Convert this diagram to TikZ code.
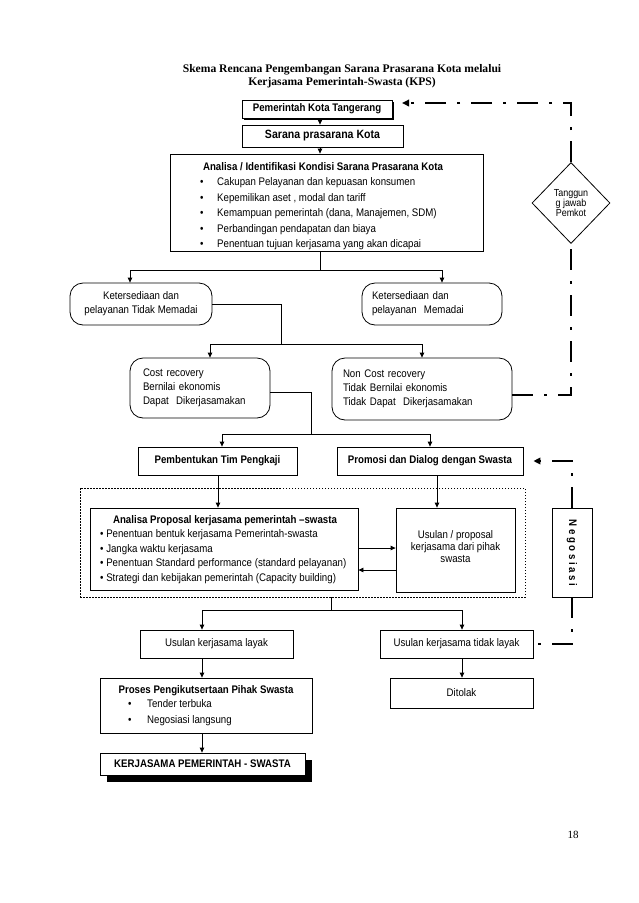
\documentclass[tikz,border=0pt]{standalone}
\usepackage{fontspec}
\setmainfont{Liberation Sans}[FakeStretch=0.88]
\newfontfamily\serifff{Liberation Serif}
\usetikzlibrary{arrows.meta,calc,shapes.geometric,shadows}
\newcommand\myNf{\fontsize{11}{13}\selectfont}
\begin{document}
\begin{tikzpicture}[x=1pt,y=-1pt,
  bx/.style={draw, line width=0.8pt, fill=white, inner sep=0pt, font=\myNf},
  rbx/.style={bx, rounded corners=13pt},
  arr/.style={line width=0.8pt, -{Triangle[length=5pt,width=4.5pt]}},
  ln/.style={line width=0.8pt},
  dd/.style={line width=2.5pt, dash pattern=on 21pt off 11pt on 3pt off 11pt},
  ddarr/.style={dd, -{Triangle[length=7pt,width=6.5pt]}},
  txt/.style={inner sep=0pt, font=\myNf, text height=8pt, text depth=2pt},
  ttl/.style={inner sep=0pt, font=\serifff\bfseries\fontsize{11.6}{13}\selectfont},
]
\fill[white] (0,0) rectangle (638,903);
\useasboundingbox (0,0) rectangle (638,903);

% title
\node[ttl] (t1) at (342,70) {Skema Rencana Pengembangan Sarana Prasarana Kota melalui};
\node[ttl] (t2) at (342,83) {Kerjasama Pemerintah-Swasta (KPS)};

% top boxes
\node[bx, minimum width=150pt, minimum height=18pt, font=\myNf\bfseries,
  drop shadow={shadow xshift=2pt, shadow yshift=-2pt, fill=black, opacity=1}] (b1) at (317,109) {Pemerintah Kota Tangerang};
\node[bx, minimum width=161pt, minimum height=22pt, font=\bfseries\fontsize{12}{13}\selectfont] (b2) at (322.5,136) {Sarana prasarana Kota};
\node[bx, minimum width=313pt, minimum height=97pt] (b3) at (326.5,202.5) {};
\node[txt, font=\myNf\bfseries] (b3h) at (323,167) {Analisa / Identifikasi Kondisi Sarana Prasarana Kota};
\foreach \yy/\tt [count=\i] in {182/{Cakupan Pelayanan dan kepuasan konsumen},
  198/{Kepemilikan aset , modal dan tariff},
  213/{Kemampuan pemerintah (dana, Manajemen, SDM)},
  229/{Perbandingan pendapatan dan biaya},
  244/{Penentuan tujuan kerjasama yang akan dicapai}}{
  \node[txt, anchor=west] (b3b\i) at (200,\yy) {\textbullet};
  \node[txt, anchor=west] (b3t\i) at (217,\yy) {\tt};
}

% level 2
\node[rbx, minimum width=142pt, minimum height=42pt, align=center, font=\fontsize{11}{14}\selectfont] (k1) at (141,304) {Ketersediaan dan\\pelayanan Tidak Memadai};
\node[rbx, minimum width=140pt, minimum height=42pt, text width=120pt, align=left, font=\fontsize{11}{14}\selectfont] (k2) at (432,304) {Ketersediaan dan\\pelayanan\ \ Memadai};

% level 3
\node[rbx, minimum width=140pt, minimum height=60pt, text width=114pt, align=left, font=\fontsize{11}{14}\selectfont] (c1) at (200,388) {Cost recovery\\Bernilai ekonomis\\Dapat\ \ Dikerjasamakan};
\node[rbx, minimum width=180pt, minimum height=62pt, text width=158pt, align=left, font=\fontsize{11}{14}\selectfont] (c2) at (422,389) {Non Cost recovery\\Tidak Bernilai ekonomis\\Tidak Dapat\ \ Dikerjasamakan};

% level 4
\node[bx, minimum width=159pt, minimum height=28pt, font=\myNf\bfseries] (p1) at (217.5,461) {Pembentukan Tim Pengkaji};
\node[bx, minimum width=186pt, minimum height=28pt, font=\myNf\bfseries] (p2) at (430,461) {Promosi dan Dialog dengan Swasta};

% dotted group
\node[draw, line width=0.5pt, dash pattern=on 1.5pt off 1.5pt, minimum width=445pt, minimum height=109pt, inner sep=0pt] (grp) at (302.5,542.5) {};

\node[bx, minimum width=268pt, minimum height=82pt] (a1) at (224,549) {};
\node[txt, font=\myNf\bfseries] (a1h) at (225,520) {Analisa Proposal kerjasama pemerintah –swasta};
\foreach \yy/\tt [count=\i] in {534/{Penentuan bentuk kerjasama Pemerintah-swasta},
  549/{Jangka waktu kerjasama},
  563/{Penentuan Standard performance (standard pelayanan)},
  578/{Strategi dan kebijakan pemerintah (Capacity building)}}{
  \node[txt, anchor=west] (a1t\i) at (100,\yy) {\textbullet\ \tt};
}

\node[bx, minimum width=119pt, minimum height=84pt] (u1) at (455.5,550) {};
\node[inner sep=0pt, align=center, font=\fontsize{11}{11.8}\selectfont] (u1t) at (455.5,546.5) {Usulan / proposal\\kerjasama dari pihak\\swasta};

\node[bx, minimum width=40pt, minimum height=89pt] (ng) at (572,552.5) {};
\node[inner sep=0pt, rotate=-90, font=\bfseries\fontsize{11}{12}\selectfont] (ngt) at (572,553) {N e g o s i a s i};

% level 5
\node[bx, minimum width=153pt, minimum height=28pt] (l1) at (216.5,644) {Usulan kerjasama layak};
\node[bx, minimum width=153pt, minimum height=28pt] (l2) at (456.5,644) {Usulan kerjasama tidak layak};

\node[bx, minimum width=212pt, minimum height=55pt] (pr) at (206,705.5) {};
\node[txt, font=\myNf\bfseries] (prh) at (206,690) {Proses Pengikutsertaan Pihak Swasta};
\node[txt, anchor=west] (prb1) at (128,704) {\textbullet};
\node[txt, anchor=west] (prt1) at (147,704) {Tender terbuka};
\node[txt, anchor=west] (prb2) at (128,720) {\textbullet};
\node[txt, anchor=west] (prt2) at (147,720) {Negosiasi langsung};

\node[bx, minimum width=205pt, minimum height=22pt, font=\myNf\bfseries,
  drop shadow={shadow xshift=7pt, shadow yshift=-7pt, fill=black, opacity=1}] (kj) at (202.5,764) {KERJASAMA PEMERINTAH - SWASTA};

\node[bx, minimum width=143pt, minimum height=30pt] (dt) at (461.5,693) {Ditolak};

% diamond
\node[draw, diamond, line width=0.8pt, fill=white, inner sep=0pt, minimum width=78pt, minimum height=81pt, align=center, font=\fontsize{10.2}{10}\selectfont] (dm) at (571,203) {Tanggun\\g jawab\\Pemkot};

% page number
\node[inner sep=0pt, font=\serifff\fontsize{11}{13}\selectfont] (pg) at (573,835) {18};

% ---- connectors ----
\coordinate (xa) at (320,0);
\draw[arr] (xa |- b1.south) -- (xa |- b2.north);
\draw[arr] (xa |- b2.south) -- (xa |- b3.north);

\coordinate (j1) at (320,270);
\coordinate (xk1) at (130,0);
\coordinate (xk2) at (442,0);
\draw[ln] (xa |- b3.south) -- (j1);
\draw[arr] (j1) -| (xk1 |- k1.north);
\draw[arr] (j1) -| (xk2 |- k2.north);

\coordinate (j2) at (281,344);
\coordinate (xc1) at (210,0);
\draw[ln] (k1.east) -| (j2);
\draw[arr] (j2) -| (xc1 |- c1.north);
\draw[arr] (j2) -| (c2.north);

\coordinate (c1e) at ($(c1.east)+(0,4)$);
\coordinate (j3) at (311,434);
\coordinate (xp1) at (222,0);
\draw[ln] (c1e) -| (j3);
\draw[arr] (j3) -| (xp1 |- p1.north);
\draw[arr] (j3) -| (p2.north);

\coordinate (xq1) at (218,0);
\coordinate (xq2) at (437,0);
\draw[arr] (xq1 |- p1.south) -- (xq1 |- a1.north);
\draw[arr] (xq2 |- p2.south) -- (xq2 |- u1.north);

\coordinate (ya) at (0,548);
\coordinate (yb) at (0,570);
\draw[arr] (a1.east |- ya) -- (u1.west |- ya);
\draw[arr] (u1.west |- yb) -- (a1.east |- yb);

\coordinate (j4) at (331,610);
\coordinate (xl1) at (202,0);
\coordinate (xl2) at (462,0);
\draw[ln] (j4 |- grp.south) -- (j4);
\draw[arr] (j4) -| (xl1 |- l1.north);
\draw[arr] (j4) -| (xl2 |- l2.north);
\draw[arr] (xl1 |- l1.south) -- (xl1 |- pr.north);
\draw[arr] (xl1 |- pr.south) -- (xl1 |- kj.north);
\draw[arr] (xl2 |- l2.south) -- (xl2 |- dt.north);

% dash-dot feedback lines
\coordinate (d1) at (571,103);
\coordinate (d1e) at (402,103);
\draw[ddarr] (dm.north) -- (d1) -- (d1e);
\coordinate (c2e) at ($(c2.east)+(0,6)$);
\draw[dd] (c2e) -- (c2e -| dm.south) -- (dm.south);
\coordinate (p2t) at ($(p2.east)+(10,0)$);
\draw[ddarr] (ng.north) -- (ng.north |- p2t) -- (p2t);
\draw[dd] (ng.south) -- (ng.south |- l2.east) -- (l2.east);
\end{tikzpicture}
\end{document}
